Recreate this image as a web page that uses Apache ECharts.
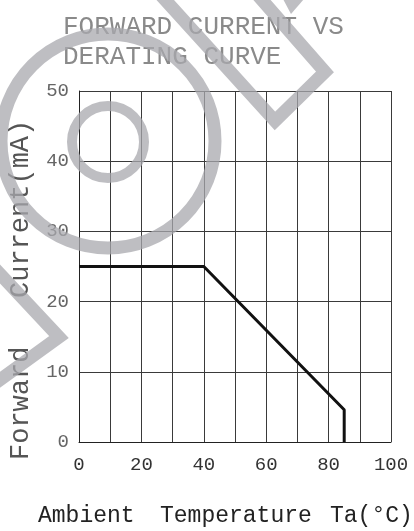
<!DOCTYPE html>
<html>
<head>
<meta charset="utf-8">
<script src="https://cdn.jsdelivr.net/npm/echarts@6/dist/echarts.min.js"></script>
<style>
html,body{margin:0;padding:0;background:#fff;}
#c{width:414px;height:531px;}
</style>
</head>
<body>
<div id="c"></div>
<script>
// Data
const titleLines = ['FORWARD CURRENT VS', 'DERATING CURVE'];
const xAxisNameParts = ['Ambient', 'Temperature', 'Ta(°C)'];
const yAxisName = 'Forward   Current(mA)';
const temperatureC = [0, 40, 85, 85];
const currentMA = [25, 25, 4.6, 0];
const xRange = [0, 100];
const yRange = [0, 50];

const FONT = '"Liberation Mono", "DejaVu Sans Mono", monospace';
const gridLine = { color: '#3a3a3a', width: 1 };
const wm = 'rgba(168,168,174,0.75)';
const xNameX = [38, 160, 330];

const chart = echarts.init(document.getElementById('c'));
chart.setOption({
  backgroundColor: '#fff',
  animation: false,
  title: {
    text: titleLines.join('\n'),
    left: 58, top: 7,
    textStyle: { fontFamily: FONT, fontSize: 26, fontWeight: 'normal', color: '#8a8a8a', lineHeight: 30 }
  },
  grid: { left: 79, right: 23, top: 91, bottom: 89 },
  xAxis: {
    type: 'value', min: xRange[0], max: xRange[1], interval: 20,
    axisLine: { show: true, onZero: false, lineStyle: { color: '#222', width: 1 } },
    axisTick: { show: false },
    minorTick: { show: false, splitNumber: 2 },
    splitLine: { show: true, lineStyle: gridLine },
    minorSplitLine: { show: true, lineStyle: gridLine },
    axisLabel: { margin: 13, fontFamily: FONT, fontSize: 19, color: '#333' }
  },
  yAxis: {
    type: 'value', min: yRange[0], max: yRange[1], interval: 10,
    axisLine: { show: true, lineStyle: { color: '#222', width: 1 } },
    axisTick: { show: false },
    splitLine: { show: true, lineStyle: gridLine },
    axisLabel: { margin: 10, fontFamily: FONT, fontSize: 19, color: '#666' }
  },
  graphic: xAxisNameParts.map((t, i) => ({
      type: 'text', left: xNameX[i], top: 504, z: 5,
      style: { text: t, font: '23px ' + FONT, fill: '#222' }
    })).concat([
    { type: 'text', x: 7, y: 460, rotation: Math.PI / 2, z: 5,
      style: { text: yAxisName, font: '27px ' + FONT, fill: '#555', textVerticalAlign: 'top' } },
    // watermark
    { type: 'circle', shape: { cx: 108, cy: 141, r: 107 }, z: 100,
      style: { fill: 'none', stroke: wm, lineWidth: 13 } },
    { type: 'circle', shape: { cx: 108, cy: 142, r: 36 }, z: 100,
      style: { fill: 'none', stroke: wm, lineWidth: 10 } },
    { type: 'polyline', shape: { points: [[158, -8], [275, 121], [325, 72], [255, -8]] }, z: 100,
      style: { fill: 'none', stroke: wm, lineWidth: 13, lineJoin: 'miter' } },
    { type: 'polygon', shape: { points: [[283, -1], [304, -1], [291, 14]] }, z: 100,
      style: { fill: wm } },
    { type: 'polyline', shape: { points: [[-14, 259], [59, 337], [-14, 390]] }, z: 100,
      style: { fill: 'none', stroke: wm, lineWidth: 13, lineJoin: 'miter' } }
  ]),
  series: [{
    type: 'line',
    data: temperatureC.map((t, i) => [t, currentMA[i]]),
    symbol: 'none',
    lineStyle: { color: '#111', width: 3 },
    z: 10
  }]
});
</script>
</body>
</html>
